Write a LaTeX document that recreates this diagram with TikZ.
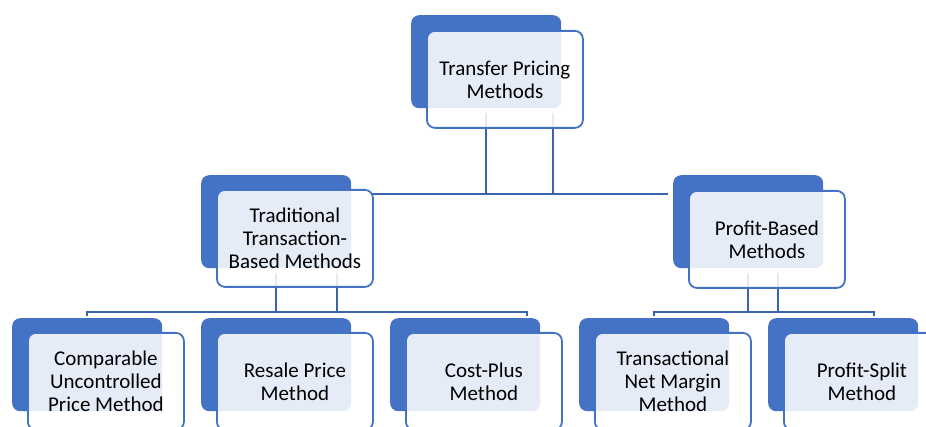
\documentclass[tikz,border=0pt]{standalone}
\usepackage{fontspec}
\setmainfont{Carlito}
\definecolor{boxblue}{HTML}{4472C4}
\definecolor{linkblue}{HTML}{3B64B0}
\begin{document}
\begin{tikzpicture}[x=1pt,y=-1pt]
	\tikzset{
		back/.style={fill=boxblue, rounded corners=8pt, minimum width=150pt, minimum height=93pt, inner sep=0pt, anchor=north west},
		front/.style={draw=boxblue, line width=1.8pt, fill=white, fill opacity=0.87, text opacity=1, rounded corners=8pt, minimum width=156pt, minimum height=97pt, inner sep=0pt, anchor=north west, align=center, font=\fontsize{21}{23}\selectfont},
		link/.style={draw=linkblue, line width=2pt}
	}
	\useasboundingbox (0,0) rectangle (926,427);
	\clip (0,0) rectangle (926,427);
	\coordinate (top-bus-l) at (372,194);
	\coordinate (top-bus-r) at (668,194);
	\coordinate (left-bus-r) at (527,312);
	\coordinate (right-bus-r) at (874,312);
	\node[back] (tpm-b) at (411,15) {};
	\node[back] (trad-b) at (201,175) {};
	\node[back] (prof-b) at (673,175) {};
	\node[back] (cup-b) at (12,318) {};
	\node[back] (rpm-b) at (201,318) {};
	\node[back] (cpm-b) at (390,318) {};
	\node[back] (tnmm-b) at (579,318) {};
	\node[back] (psm-b) at (768,318) {};
	% buses
	\draw[link] (top-bus-l) -- (top-bus-r);
	\draw[link] ([yshift=-5pt]tpm-b.south) -- (tpm-b.south |- top-bus-l);
	\draw[link] ([xshift=67pt,yshift=-5pt]tpm-b.south) -- ++(0,81);
	\draw[link] ([yshift=2pt]cup-b.north) |- (left-bus-r) -- ++(0,4);
	\draw[link] ([yshift=-5pt]trad-b.south) -- (trad-b.south |- left-bus-r);
	\draw[link] ([xshift=61pt,yshift=-5pt]trad-b.south) -- ++(0,39);
	\draw[link] ([yshift=2pt]tnmm-b.north) |- (right-bus-r) -- ++(0,4);
	\draw[link] ([yshift=-5pt]prof-b.south) -- (prof-b.south |- right-bus-r);
	\draw[link] ([xshift=30pt,yshift=-5pt]prof-b.south) -- ++(0,39);
	% boxes
	\node[front] (tpm) at (426,30) {Transfer Pricing\\Methods};
	\node[front] (trad) at (216,189) {Traditional\\Transaction-\\Based Methods};
	\node[front] (prof) at (688,190) {Profit-Based\\Methods};
	\node[front] (cup) at (27,332) {Comparable\\Uncontrolled\\Price Method};
	\node[front] (rpm) at (216,332) {Resale Price\\Method};
	\node[front] (cpm) at (405,332) {Cost-Plus\\Method};
	\node[front] (tnmm) at (594,332) {Transactional\\Net Margin\\Method};
	\node[front] (psm) at (783,332) {Profit-Split\\Method};
\end{tikzpicture}
\end{document}
